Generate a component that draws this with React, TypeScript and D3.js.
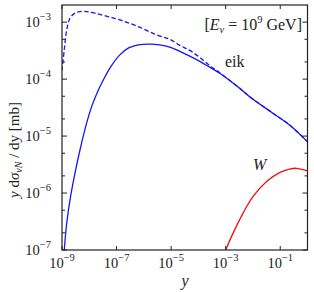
import React from "react";
import * as d3 from "d3";

const W = 314, H = 292;
const M = { left: 62, right: 307.5, top: 5, bottom: 250 };

// eik (solid)
const eikX = [1.21e-9, 1.49e-9, 1.96e-9, 2.99e-9, 4.56e-9, 8.02e-9, 1.22e-8, 1.86e-8, 2.84e-8, 5.7e-8, 1.32e-7, 2.67e-7, 6.19e-7, 1.66e-6, 3.86e-6, 8.95e-6, 2.08e-5, 4.82e-5, 1.12e-4, 2.6e-4, 6.04e-4, 3.26e-3, 7.57e-3, 5.38e-2, 0.22, 1.0];
const eikY = [1.0e-7, 2.97e-7, 7.53e-7, 2.24e-6, 5.7e-6, 1.7e-5, 3.29e-5, 5.5e-5, 8.47e-5, 1.56e-4, 2.66e-4, 3.49e-4, 3.99e-4, 4.12e-4, 3.99e-4, 3.64e-4, 3.07e-4, 2.53e-4, 2.05e-4, 1.62e-4, 1.27e-4, 6.92e-5, 4.92e-5, 2.52e-5, 1.57e-5, 7.98e-6];

// total (dashed)
const totX = [1.0e-9, 1.21e-9, 1.49e-9, 1.96e-9, 2.99e-9, 4.56e-9, 8.02e-9, 1.61e-8, 4.82e-8, 1.53e-7, 6.19e-7, 2.92e-6, 8.95e-6, 2.08e-5, 4.82e-5, 1.12e-4, 2.6e-4, 6.04e-4, 3.26e-3, 7.57e-3, 5.38e-2, 0.22, 1.0];
const totY = [1.4e-4, 3.26e-4, 7.33e-4, 1.17e-3, 1.44e-3, 1.53e-3, 1.53e-3, 1.44e-3, 1.25e-3, 1.07e-3, 8.37e-4, 5.98e-4, 4.99e-4, 3.91e-4, 3.19e-4, 2.4e-4, 1.72e-4, 1.29e-4, 6.92e-5, 4.92e-5, 2.52e-5, 1.57e-5, 7.98e-6];

// W (red)
const wX = [1.0e-3, 1.85e-3, 4.31e-3, 1.0e-2, 3.09e-2, 9.46e-2, 0.22, 0.387, 1.0];
const wY = [1.0e-7, 1.96e-7, 4.4e-7, 8.61e-7, 1.58e-6, 2.28e-6, 2.64e-6, 2.72e-6, 2.45e-6];

const xTickExp = [-9, -7, -5, -3, -1];
const yTickExp = [-7, -6, -5, -4, -3];
const yMinorMult = [2, 5];

const FONT = "'Liberation Serif', 'DejaVu Serif', serif";

export default function App() {
  const x = d3.scaleLog().domain([1e-9, 1]).range([M.left, M.right]);
  const y = d3.scaleLog().domain([1e-7, 2e-3]).range([M.bottom, M.top]);
  const line = d3
    .line<[number, number]>()
    .x((d) => x(d[0]))
    .y((d) => y(d[1]))
    .curve(d3.curveCatmullRom.alpha(0.5));
  const zip = (a: number[], b: number[]) => a.map((v, i) => [v, b[i]] as [number, number]);

  const minors: number[] = [];
  for (let e = -7; e <= -3; e++) {
    for (const m of yMinorMult) {
      const v = m * Math.pow(10, e);
      if (v < 2e-3 * 0.999) minors.push(v);
    }
  }
  const frame = "#222";

  return (
    <svg width={W} height={H} style={{ position: "absolute", left: 0, top: 0, background: "#fff" }} fontFamily={FONT}>
      <defs>
        <clipPath id="plotclip">
          <rect x={M.left} y={M.top} width={M.right - M.left} height={M.bottom - M.top} />
        </clipPath>
      </defs>
      <g clipPath="url(#plotclip)" fill="none" strokeWidth={1.3}>
        <path d={line(zip(totX, totY)) || ""} stroke="#1515f5" strokeDasharray="4.5,2.5" />
        <path d={line(zip(eikX, eikY)) || ""} stroke="#1515f5" />
        <path d={line(zip(wX, wY)) || ""} stroke="#f01010" />
      </g>
      <rect x={M.left} y={M.top} width={M.right - M.left} height={M.bottom - M.top} fill="none" stroke={frame} strokeWidth={1.2} />
      {xTickExp.map((e) => {
        const px = x(Math.pow(10, e));
        return (
          <g key={"x" + e}>
            <line x1={px} x2={px} y1={M.bottom} y2={M.bottom - 4} stroke={frame} />
            <line x1={px} x2={px} y1={M.top} y2={M.top + 4} stroke={frame} />
            <text x={px} y={268} textAnchor="middle" fontSize={14.5} fill="#222">
              10<tspan dy={-7} fontSize={10.5}>{"\u2212" + Math.abs(e)}</tspan>
            </text>
          </g>
        );
      })}
      {yTickExp.map((e) => {
        const py = y(Math.pow(10, e));
        return (
          <g key={"y" + e}>
            <line x1={M.left} x2={M.left + 5} y1={py} y2={py} stroke={frame} />
            <line x1={M.right} x2={M.right - 5} y1={py} y2={py} stroke={frame} />
            <text x={51} y={py + 5} textAnchor="end" fontSize={14.5} fill="#222">
              10<tspan dy={-7} fontSize={10.5}>{"\u2212" + Math.abs(e)}</tspan>
            </text>
          </g>
        );
      })}
      {minors.map((v, i) => {
        const py = y(v);
        return (
          <g key={"m" + i}>
            <line x1={M.left} x2={M.left + 3} y1={py} y2={py} stroke={frame} />
            <line x1={M.right} x2={M.right - 3} y1={py} y2={py} stroke={frame} />
          </g>
        );
      })}
      <text x={302} y={30} textAnchor="end" fontSize={16} fill="#222">
        [<tspan fontStyle="italic">E</tspan>
        <tspan fontStyle="italic" fontSize={10.5} dy={3}>ν</tspan>
        <tspan dy={-3}>{" = 10"}</tspan>
        <tspan fontSize={10.5} dy={-7}>9</tspan>
        <tspan dy={7}>{" GeV]"}</tspan>
      </text>
      <text x={225} y={67} fontSize={16} fill="#222">eik</text>
      <text x={253} y={170} fontSize={16} fontStyle="italic" fill="#222">W</text>
      <text x={185} y={286} textAnchor="middle" fontSize={16} fontStyle="italic" fill="#222">y</text>
      <text transform="translate(19,150) rotate(-90)" textAnchor="middle" fontSize={15} fill="#222">
        <tspan fontStyle="italic">y</tspan>
        <tspan> d</tspan>
        <tspan fontStyle="italic">σ</tspan>
        <tspan fontStyle="italic" fontSize={10} dy={3}>νN</tspan>
        <tspan dy={-3}> / dy [mb]</tspan>
      </text>
    </svg>
  );
}
